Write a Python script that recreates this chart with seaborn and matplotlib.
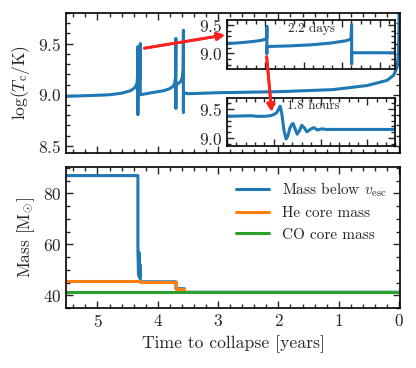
import numpy as np
import pandas as pd
import seaborn as sns
import matplotlib.pyplot as plt
from matplotlib.ticker import MultipleLocator

# central temperature vs time to collapse (years)
t_main = [5.5, 5.0, 4.8, 4.6, 4.45, 4.38, 4.345, 4.332, 4.33, 4.33, 4.33, 4.31, 4.292, 4.29, 4.29, 4.29,
          4.1, 3.9, 3.8, 3.75, 3.72, 3.705, 3.70, 3.70, 3.70, 3.66, 3.62, 3.59, 3.58, 3.575, 3.575, 3.575,
          3.5, 3.0, 2.0, 1.1, 0.53, 0.2, 0.09, 0.03, 0.01, 0.0, 0.0]
logTc_main = [8.985, 8.995, 9.0, 9.015, 9.04, 9.07, 9.11, 9.2, 9.47, 8.81, 9.1, 9.12, 9.2, 9.5, 9.0, 9.0,
              9.02, 9.04, 9.06, 9.08, 9.11, 9.18, 9.55, 8.87, 9.1, 9.11, 9.13, 9.18, 9.25, 9.63, 8.83, 9.02,
              9.01, 9.02, 9.03, 9.05, 9.09, 9.14, 9.19, 9.27, 9.4, 9.6, 10.0]

# inset 1: 2.2 days
t_days = [0.0, 0.2, 0.35, 0.45, 0.5, 0.52, 0.52, 0.52, 0.52, 0.8, 1.1, 1.35, 1.55, 1.62, 1.63, 1.63, 1.63, 2.2]
logTc_days = [9.17, 9.19, 9.21, 9.23, 9.25, 9.27, 9.47, 9.0, 9.12, 9.13, 9.15, 9.18, 9.22, 9.25, 9.51, 8.82, 9.01, 9.01]

# inset 2: 1.8 hours
t_hours = [0.0, 0.12, 0.25, 0.33, 0.4, 0.46, 0.5, 0.53, 0.55, 0.568, 0.585, 0.61, 0.632, 0.65, 0.67, 0.69,
           0.707, 0.73, 0.75, 0.775, 0.80, 0.83, 0.854, 0.89, 0.925, 0.95, 0.968, 0.99, 1.015, 1.06, 1.1, 1.8]
logTc_hours = [9.37, 9.375, 9.38, 9.37, 9.37, 9.38, 9.40, 9.43, 9.49, 9.54, 9.42, 9.12, 8.99, 9.04, 9.16, 9.23,
               9.25, 9.15, 9.07, 9.13, 9.22, 9.17, 9.11, 9.15, 9.18, 9.16, 9.14, 9.15, 9.16, 9.15, 9.15, 9.15]

# masses
t_vesc = [5.5, 4.33, 4.33, 4.32, 4.315, 4.31, 4.305, 4.3, 4.295, 4.29, 4.28, 3.70, 3.70, 3.56, 3.56, 0.0]
m_vesc = [87.0, 87.0, 58.0, 48.0, 57.0, 47.5, 56.0, 47.0, 52.0, 45.5, 45.3, 45.3, 42.6, 42.6, 41.2, 41.2]
t_he = [5.5, 4.29, 4.29, 3.70, 3.70, 3.56, 3.56, 0.0]
m_he = [45.7, 45.7, 45.3, 45.3, 42.6, 42.6, 41.2, 41.2]
t_co = [5.5, 0.0]
m_co = [41.2, 41.2]

sns.set_style('ticks')
plt.rcParams['font.family'] = ['cmr10', 'DejaVu Serif']
plt.rcParams['mathtext.fontset'] = 'cm'
plt.rcParams['axes.formatter.use_mathtext'] = True
plt.rcParams['axes.unicode_minus'] = False

blue, orange, green = '#1f77b4', '#ff7f0e', '#2ca02c'
LW = 2.2

fig = plt.figure(figsize=(4.16, 3.68), dpi=100)
ax1 = fig.add_axes([0.159, 0.584, 0.803, 0.381])
ax2 = fig.add_axes([0.159, 0.163, 0.803, 0.384])
in1 = fig.add_axes([0.546, 0.812, 0.404, 0.134])
in2 = fig.add_axes([0.546, 0.603, 0.404, 0.131])


def style(ax, fs=12.5):
    ax.tick_params(which='both', direction='in', top=True, right=True, labelsize=fs, width=1.0)
    ax.tick_params(which='major', length=5)
    ax.tick_params(which='minor', length=2.8)
    for s in ax.spines.values():
        s.set_linewidth(1.2)
        s.set_color('black')


df = pd.DataFrame({'t': t_main, 'y': logTc_main})
sns.lineplot(data=df, x='t', y='y', ax=ax1, color=blue, lw=LW, estimator=None, sort=False)
ax1.set_xlim(5.52, -0.02)
ax1.set_ylim(8.43, 9.8)
ax1.set_yticks([8.5, 9.0, 9.5])
ax1.yaxis.set_minor_locator(MultipleLocator(0.1))
ax1.xaxis.set_major_locator(MultipleLocator(1))
ax1.xaxis.set_minor_locator(MultipleLocator(0.2))
ax1.set_xticklabels([])
ax1.set_xlabel('')
ax1.set_ylabel(r'$\log(T_{\rm c}/{\rm K})$', fontsize=12.5)
style(ax1)

d1 = pd.DataFrame({'t': t_days, 'y': logTc_days})
sns.lineplot(data=d1, x='t', y='y', ax=in1, color=blue, lw=LW, estimator=None, sort=False)
in1.set_xlim(0, 2.2)
in1.set_ylim(8.72, 9.59)
in1.set_yticks([9.0, 9.5])
in1.yaxis.set_minor_locator(MultipleLocator(0.1))
in1.xaxis.set_major_locator(MultipleLocator(0.5))
in1.xaxis.set_minor_locator(MultipleLocator(0.125))
in1.set_xticklabels([])
in1.set_xlabel('')
in1.set_ylabel('')
in1.text(0.5, 0.83, '2.2 days', transform=in1.transAxes, ha='center', va='center', fontsize=9.5)
style(in1)

d2 = pd.DataFrame({'t': t_hours, 'y': logTc_hours})
sns.lineplot(data=d2, x='t', y='y', ax=in2, color=blue, lw=LW, estimator=None, sort=False)
in2.set_xlim(0, 1.8)
in2.set_ylim(8.87, 9.68)
in2.set_yticks([9.0, 9.5])
in2.yaxis.set_minor_locator(MultipleLocator(0.1))
in2.xaxis.set_major_locator(MultipleLocator(0.5))
in2.xaxis.set_minor_locator(MultipleLocator(0.1))
in2.set_xticklabels([])
in2.set_xlabel('')
in2.set_ylabel('')
in2.text(0.51, 0.84, '1.8 hours', transform=in2.transAxes, ha='center', va='center', fontsize=9.5)
style(in2)

for tt, mm, c, lab in [(t_vesc, m_vesc, blue, r'Mass below $v_{\rm esc}$'),
                       (t_he, m_he, orange, 'He core mass'),
                       (t_co, m_co, green, 'CO core mass')]:
    dm = pd.DataFrame({'t': tt, 'm': mm})
    sns.lineplot(data=dm, x='t', y='m', ax=ax2, color=c, lw=LW, estimator=None, sort=False, label=lab)
ax2.set_xlim(5.52, -0.02)
ax2.set_ylim(35, 90.5)
ax2.set_yticks([40, 60, 80])
ax2.yaxis.set_minor_locator(MultipleLocator(5))
ax2.xaxis.set_major_locator(MultipleLocator(1))
ax2.xaxis.set_minor_locator(MultipleLocator(0.2))
ax2.set_xlabel('Time to collapse [years]', fontsize=12.7)
ax2.set_ylabel(r'Mass [M$_{\odot}$]', fontsize=12.5)
ax2.legend(loc='upper right', frameon=False, fontsize=11, handlelength=2.2)
style(ax2)

arrow = dict(arrowstyle='-|>', color='#ff2020', lw=2, mutation_scale=11, shrinkA=0, shrinkB=0)
fig.add_artist(plt.annotate('', xy=(0.541, 0.905), xytext=(0.347, 0.869),
                            xycoords='figure fraction', textcoords='figure fraction', arrowprops=arrow))
fig.add_artist(plt.annotate('', xy=(0.653, 0.696), xytext=(0.641, 0.846),
                            xycoords='figure fraction', textcoords='figure fraction', arrowprops=arrow))

fig.savefig('out.png', dpi=100)
